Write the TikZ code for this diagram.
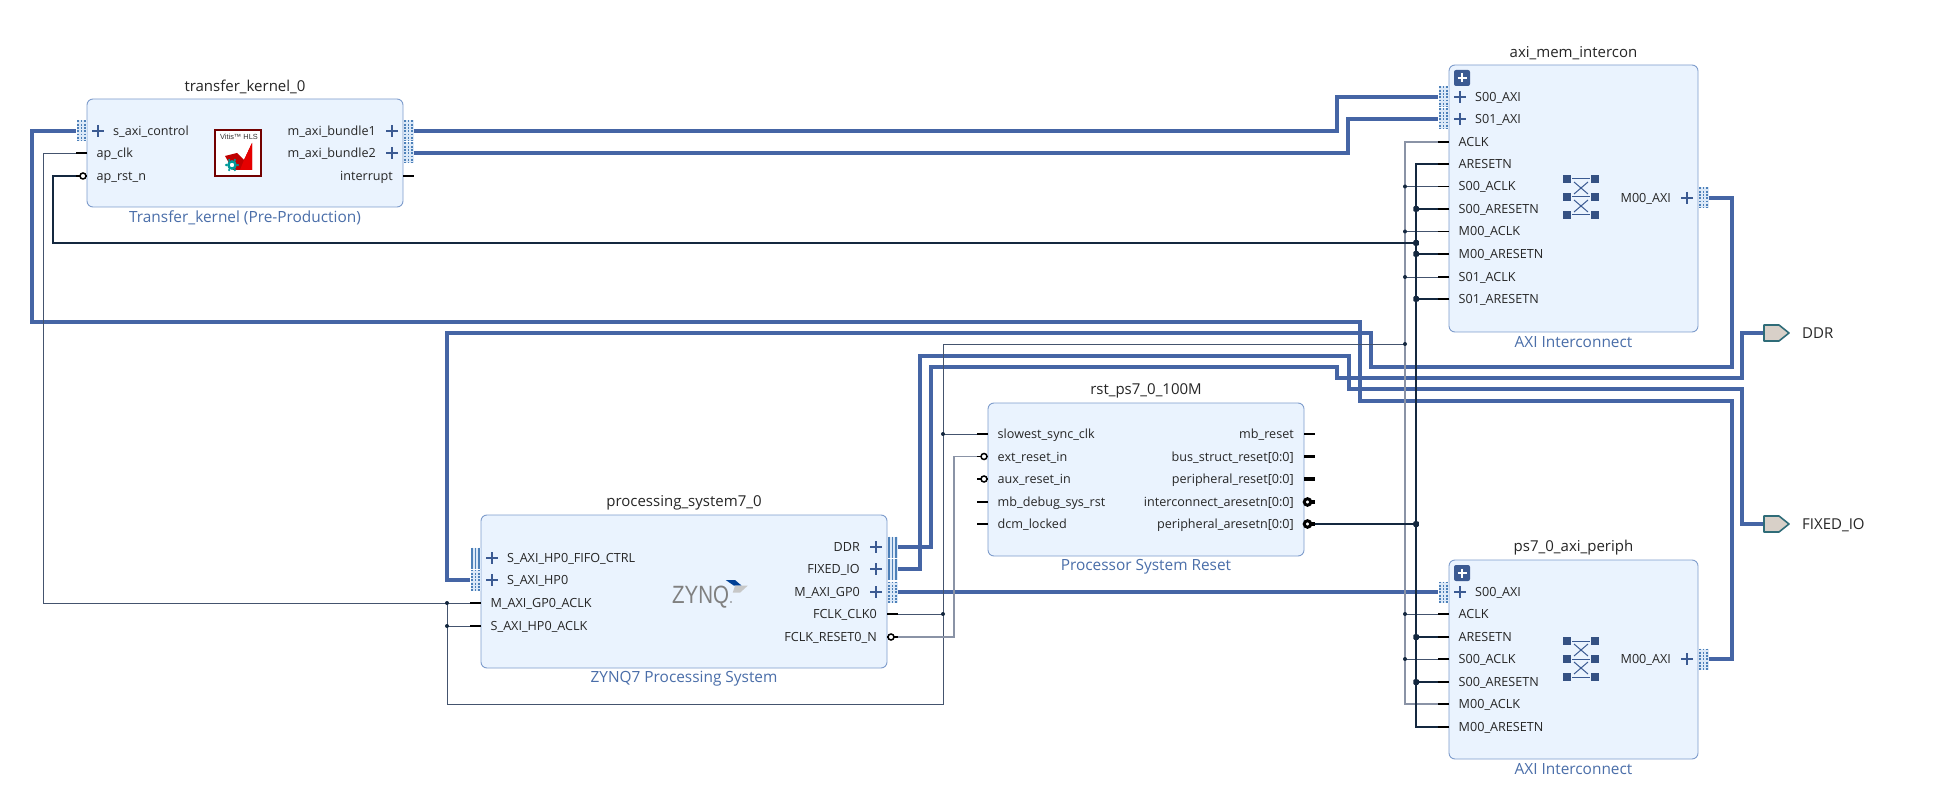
\documentclass[tikz,border=0pt]{standalone}
\usepackage{fontspec}
\setmainfont{Open Sans}
\newfontfamily\logofont{Liberation Sans}
\usetikzlibrary{calc}
\definecolor{blockfill}{HTML}{EAF3FE}
\definecolor{blockline}{HTML}{7E9CCC}
\definecolor{subtext}{HTML}{4A6EA9}
\definecolor{buswire}{HTML}{4565A5}
\definecolor{bushalo}{HTML}{C4D2E8}
\definecolor{busdots}{HTML}{4D80B8}
\definecolor{buspale}{HTML}{DCE9F8}
\definecolor{navy}{HTML}{3B5A92}
\definecolor{clkdark}{HTML}{44546E}
\definecolor{clkgray}{HTML}{8A93A6}
\definecolor{rstdark}{HTML}{14283F}
\definecolor{portfill}{HTML}{D8D0C8}
\definecolor{portline}{HTML}{2F6C78}
\tikzset{
  blockbox/.style={draw=blockline,fill=blockfill,line width=0.9pt,rounded corners=6pt,inner sep=0pt,outer sep=0pt},
  blocktitle/.style={font=\fontsize{15}{17}\selectfont,text=black!85,inner sep=0pt},
  blocksub/.style={font=\fontsize{15.4}{17}\selectfont,text=subtext,inner sep=0pt},
  pinlabel/.style={font=\fontsize{12.6}{14}\selectfont,text=black!85,inner sep=0pt},
  stub/.style={line width=1.7pt,draw=black},
  fatstub/.style={line width=3.4pt,draw=black},
  bubble/.style={draw=black,fill=white,line width=1.5pt,circle,minimum size=6pt,inner sep=0pt},
  fatbubble/.style={draw=black,fill=white,line width=3pt,circle,minimum size=6.5pt,inner sep=0pt},
  plussign/.style={line width=2pt,draw=navy},
  axibus/.style={line width=3.4pt,draw=buswire,preaction={draw=bushalo,line width=4.8pt}},
  clkwire/.style={line width=0.8pt,draw=clkdark},
  clkbus/.style={line width=1.2pt,draw=clkgray},
  rstwire/.style={line width=1.7pt,draw=rstdark},
  rstbus/.style={line width=2.2pt,draw=rstdark},
  clkdot/.style={circle,fill=rstdark,minimum size=4pt,inner sep=0pt},
  rstdot/.style={rectangle,rounded corners=1pt,fill=rstdark,minimum size=5.5pt,inner sep=0pt},
  portshape/.style={draw=portline,fill=portfill,line width=1.6pt,line join=round},
  iconpart/.style={fill=navy!90!black},
  iconline/.style={draw=navy,line width=1pt},
}
% Block outline with instance name above and IP name below
\newcommand\ipblock[7]{%
  \node[blockbox,anchor=north west,minimum width={(#4-#2)*1pt},minimum height={(#5-#3)*1pt}] (#1) at (#2,#3) {};
  \node[blocktitle] (#1-title) at ({(#2+#4)/2},#3-12) {#6};
  \node[blocksub] (#1-sub) at ({(#2+#4)/2},#5+10.5) {#7};
}
% Scalar pins: left or right side
\newcommand\inpin[4]{%
  \coordinate (#1) at (#2-11,#3);
  \draw[stub] (#2,#3) -- (#1);
  \node[pinlabel,anchor=base west] (#1-l) at (#2+9.5,#3+4.5) {#4};
}
\newcommand\inbar[4]{%
  \inpin{#1}{#2}{#3}{#4}
  \node[bubble] at (#2-4,#3) {};
}
\newcommand\outpin[4]{%
  \coordinate (#1) at (#2+11,#3);
  \draw[stub] (#2,#3) -- (#1);
  \node[pinlabel,anchor=base east] (#1-l) at (#2-10,#3+4.5) {#4};
}
\newcommand\outbar[4]{%
  \outpin{#1}{#2}{#3}{#4}
  \node[bubble] at (#2+4,#3) {};
}
\newcommand\outfat[4]{%
  \coordinate (#1) at (#2+11,#3);
  \draw[fatstub] (#2,#3) -- (#1);
  \node[pinlabel,anchor=base east] (#1-l) at (#2-10,#3+4.5) {#4};
}
\newcommand\outring[4]{%
  \outpin{#1}{#2}{#3}{#4}
  \draw[fatstub] (#2+4,#3) -- (#1);
  \node[fatbubble] at (#2+3.5,#3) {};
}
% Interface connector strips: dotted or solid columns between x0 and x1
\newcommand\dotstrip[4]{%
  \fill[buspale] ({(#1)-0.5},#3) rectangle ({(#2)+0.5},#4);
  \foreach \u in {0,0.5,1}
    \draw[busdots,line width=1.8pt,dash pattern=on 1.8pt off 1.5pt] ({(#1)+0.9+((#2)-(#1)-1.8)*\u},#3) -- ({(#1)+0.9+((#2)-(#1)-1.8)*\u},#4);
}
\newcommand\solidstrip[4]{%
  \fill[buspale] ({(#1)-0.5},#3) rectangle ({(#2)+0.5},#4);
  \foreach \u in {0,0.5,1}
    \draw[busdots,line width=1.7pt] ({(#1)+0.9+((#2)-(#1)-1.8)*\u},#3) -- ({(#1)+0.9+((#2)-(#1)-1.8)*\u},#4);
}
% Interface pins, with plus sign and label
\newcommand\buspinL[5]{%
  \coordinate (#1) at (#2-11,#3);
  #5{#2-10}{#2-1}{#3-10.5}{#3+10.5}
  \draw[plussign] (#2+5,#3) -- (#2+17,#3) (#2+11,#3-6) -- (#2+11,#3+6);
  \node[pinlabel,anchor=base west] (#1-l) at (#2+26,#3+4.5) {#4};
}
\newcommand\buspinR[5]{%
  \coordinate (#1) at (#2+11,#3);
  #5{#2+1}{#2+10}{#3-10.5}{#3+10.5}
  \draw[plussign] (#2-5,#3) -- (#2-17,#3) (#2-11,#3-6) -- (#2-11,#3+6);
  \node[pinlabel,anchor=base east] (#1-l) at (#2-27,#3+4.5) {#4};
}
% Crossbar emblem of the interconnect blocks
\newcommand\xbar[2]{%
  \foreach \a in {-14,14} \foreach \b in {-18,0,18}
    \fill[iconpart] (#1+\a-4,#2+\b-4) rectangle (#1+\a+4,#2+\b+4);
  \draw[iconline] (#1-9,#2-18) -- (#1+9,#2-18) (#1-9,#2) -- (#1+9,#2) (#1-9,#2+18) -- (#1+9,#2+18);
  \draw[iconline] (#1-7,#2-15) -- (#1+7,#2-3) (#1+7,#2-15) -- (#1-7,#2-3)
                  (#1-7,#2+3) -- (#1+7,#2+15) (#1+7,#2+3) -- (#1-7,#2+15);
}
\newcommand\expander[2]{%
  \fill[navy,rounded corners=2pt] (#1,#2) rectangle (#1+16,#2+16);
  \draw[white,line width=2pt] (#1+3.5,#2+8) -- (#1+12.5,#2+8) (#1+8,#2+3.5) -- (#1+8,#2+12.5);
}
\newcommand\clktap[1]{%
  \draw[clkwire] (#1) -- (#1 -| clktop);
  \node[clkdot] at (#1 -| clktop) {};
}
\newcommand\rsttap[1]{%
  \draw[rstwire] (#1) -- (#1 -| rsttop);
  \node[rstdot] at (#1 -| rsttop) {};
}
\begin{document}
\begin{tikzpicture}[x=1pt,y=-1pt]
\useasboundingbox (0,0) rectangle (1936,810);
\fill[white] (0,0) rectangle (1936,810);

% Blocks
\ipblock{tk}{87}{99}{403}{207}{transfer\_kernel\_0}{Transfer\_kernel (Pre-Production)}
\ipblock{mem}{1449}{65}{1698}{332}{axi\_mem\_intercon}{AXI Interconnect}
\ipblock{zy}{481}{515}{887}{668}{processing\_system7\_0}{ZYNQ7 Processing System}
\ipblock{rst}{988}{403}{1304}{556}{rst\_ps7\_0\_100M}{Processor System Reset}
\ipblock{per}{1449}{560}{1698}{759}{ps7\_0\_axi\_periph}{AXI Interconnect}

% transfer_kernel_0 pins
\buspinL{tk-ctl}{87}{131}{s\_axi\_control}{\dotstrip}
\inpin{tk-clk}{87}{153}{ap\_clk}
\inbar{tk-rst}{87}{176}{ap\_rst\_n}
\buspinR{tk-b1}{403}{131}{m\_axi\_bundle1}{\dotstrip}
\buspinR{tk-b2}{403}{153}{m\_axi\_bundle2}{\dotstrip}
\outpin{tk-irq}{403}{176}{interrupt}

% axi_mem_intercon pins
\buspinL{mem-S00}{1449}{97}{S00\_AXI}{\dotstrip}
\buspinL{mem-S01}{1449}{119}{S01\_AXI}{\dotstrip}
\inpin{mem-ACLK}{1449}{142}{ACLK}
\inpin{mem-ARST}{1449}{164}{ARESETN}
\inpin{mem-S00CLK}{1449}{186.5}{S00\_ACLK}
\inpin{mem-S00RST}{1449}{209}{S00\_ARESETN}
\inpin{mem-M00CLK}{1449}{231.5}{M00\_ACLK}
\inpin{mem-M00RST}{1449}{254}{M00\_ARESETN}
\inpin{mem-S01CLK}{1449}{277}{S01\_ACLK}
\inpin{mem-S01RST}{1449}{299}{S01\_ARESETN}
\buspinR{mem-M00}{1698}{198}{M00\_AXI}{\dotstrip}
\expander{1454}{70}
\xbar{1581}{197}

% processing_system7_0 pins
\buspinL{zy-FIFO}{481}{558}{S\_AXI\_HP0\_FIFO\_CTRL}{\solidstrip}
\buspinL{zy-HP0}{481}{580}{S\_AXI\_HP0}{\dotstrip}
\inpin{zy-GPCLK}{481}{603}{M\_AXI\_GP0\_ACLK}
\inpin{zy-HPCLK}{481}{626}{S\_AXI\_HP0\_ACLK}
\buspinR{zy-DDR}{887}{547}{DDR}{\solidstrip}
\buspinR{zy-FIX}{887}{569}{FIXED\_IO}{\solidstrip}
\buspinR{zy-GP0}{887}{592}{M\_AXI\_GP0}{\dotstrip}
\outpin{zy-FCLK}{887}{614}{FCLK\_CLK0}
\outbar{zy-FRST}{887}{637}{FCLK\_RESET0\_N}

% rst_ps7_0_100M pins
\inpin{rst-sync}{988}{434}{slowest\_sync\_clk}
\inbar{rst-ext}{988}{456.5}{ext\_reset\_in}
\inbar{rst-aux}{988}{479}{aux\_reset\_in}
\inpin{rst-dbg}{988}{502}{mb\_debug\_sys\_rst}
\inpin{rst-dcm}{988}{524}{dcm\_locked}
\outpin{rst-mb}{1304}{434}{mb\_reset}
\outfat{rst-bus}{1304}{456.5}{bus\_struct\_reset[0:0]}
\outfat{rst-per}{1304}{479}{peripheral\_reset[0:0]}
\outring{rst-ic}{1304}{502}{interconnect\_aresetn[0:0]}
\outring{rst-pa}{1304}{524}{peripheral\_aresetn[0:0]}

% ps7_0_axi_periph pins
\buspinL{per-S00}{1449}{592}{S00\_AXI}{\dotstrip}
\inpin{per-ACLK}{1449}{614}{ACLK}
\inpin{per-ARST}{1449}{637}{ARESETN}
\inpin{per-S00CLK}{1449}{659}{S00\_ACLK}
\inpin{per-S00RST}{1449}{682}{S00\_ARESETN}
\inpin{per-M00CLK}{1449}{704}{M00\_ACLK}
\inpin{per-M00RST}{1449}{727}{M00\_ARESETN}
\buspinR{per-M00}{1698}{659}{M00\_AXI}{\dotstrip}
\expander{1454}{565}
\xbar{1581}{659}

% External ports
\coordinate (ddr-port) at (1764,333);
\coordinate (fix-port) at (1764,524);

% AXI and external interface nets
\draw[axibus] (tk-ctl) -| (32,322) -| (1360,401) -| (1732,659) -- (per-M00);
\draw[axibus] (tk-b1) -| (1337,97) -- (mem-S00);
\draw[axibus] (tk-b2) -| (1348,119) -- (mem-S01);
\draw[axibus] (zy-HP0) -| (447,333) -| (1371,367) -| (1732,198) -- (mem-M00);
\draw[axibus] (zy-FIX) -| (920,356) -| (1349,389) -| (1742,524) -- (fix-port);
\draw[axibus] (zy-DDR) -| (931,367) -| (1337,378) -| (1742,333) -- (ddr-port);
\draw[axibus] (zy-GP0) -- (per-S00);

% Clock nets
\coordinate (clktop) at (1405,142);
\coordinate (clkbot) at (1405,704);
\coordinate (psclk) at (943,704);
\draw[clkwire] (tk-clk) -| (43,603) -- (zy-GPCLK);
\draw[clkwire] (zy-HPCLK) -- (447,626);
\draw[clkwire] (447,603) -- (447,704) -- (psclk) -- (943,344) -- (1405,344);
\node[clkdot] at (447,603) {};
\node[clkdot] at (447,626) {};
\draw[clkwire] (zy-FCLK) -- (943,614);
\node[clkdot] at (943,614) {};
\draw[clkwire] (rst-sync) -- (943,434);
\node[clkdot] at (943,434) {};
\draw[clkbus] (mem-ACLK) -- (clktop) -- (clkbot) -- (per-M00CLK);
\node[clkdot] at (1405,344) {};
\clktap{mem-S00CLK}
\clktap{mem-M00CLK}
\clktap{mem-S01CLK}
\clktap{per-ACLK}
\clktap{per-S00CLK}

% Reset nets
\draw[clkbus] (zy-FRST) -| (954,456.5) -- (rst-ext);
\coordinate (rsttop) at (1416,164);
\coordinate (rstbot) at (1416,727);
\draw[rstbus] (mem-ARST) -- (rsttop) -- (rstbot) -- (per-M00RST);
\draw[rstwire] (tk-rst) -| (53,243) -- (1416,243);
\node[rstdot] at (1416,243) {};
\rsttap{mem-S00RST}
\rsttap{mem-M00RST}
\rsttap{mem-S01RST}
\rsttap{rst-pa}
\rsttap{per-ARST}
\rsttap{per-S00RST}

% External port symbols and names
\draw[portshape] (ddr-port) ++(0,-8) -- ++(15,0) -- ++(10,8) -- ++(-10,8) -- ++(-15,0) -- cycle;
\draw[portshape] (fix-port) ++(0,-8) -- ++(15,0) -- ++(10,8) -- ++(-10,8) -- ++(-15,0) -- cycle;
\node[blocktitle,anchor=base west] (ddr-name) at (1802,338.5) {DDR};
\node[blocktitle,anchor=base west] (fix-name) at (1802,529.5) {FIXED\_IO};

% Vitis HLS emblem
\draw[draw=red!45!black,fill=white,line width=2pt] (215,130) rectangle (261,176);
\node[font=\logofont\fontsize{7.4}{8}\selectfont,text=black!80,inner sep=0pt] (hls-text) at (239,137) {Vitis™ HLS};
\fill[red!75!black] (225,156) -- (237,153) -- (244,160) -- (252,143) -- (252,170) -- (233,170) -- cycle;
\fill[red!90!black] (244,160) -- (252,143) -- (252,170) -- (240,170) -- cycle;
\draw[teal!80!cyan,line width=2.4pt,fill=white] (232,165) circle (3.6);
\foreach \t in {0,60,...,300}
  \fill[teal!80!cyan] (232,165) ++(\t:5.8) circle (1.3);

% Zynq emblem
\node[font=\logofont\fontsize{25}{26}\selectfont,text=black!50,inner sep=0pt,anchor=base west] (zynq-text) at (672,603) {\scalebox{0.82}[1]{ZYNQ}};
\fill[black!55] (731,602) circle (0.8);
\fill[blue!45!black!75!cyan] (725.7,580) -- (735,580) -- (741.7,585.7) -- (734,585.7) -- cycle;
\fill[black!22] (735,585.7) -- (747.7,585.7) -- (740,592.7) -- (732.7,592.7) -- cycle;
\end{tikzpicture}
\end{document}
